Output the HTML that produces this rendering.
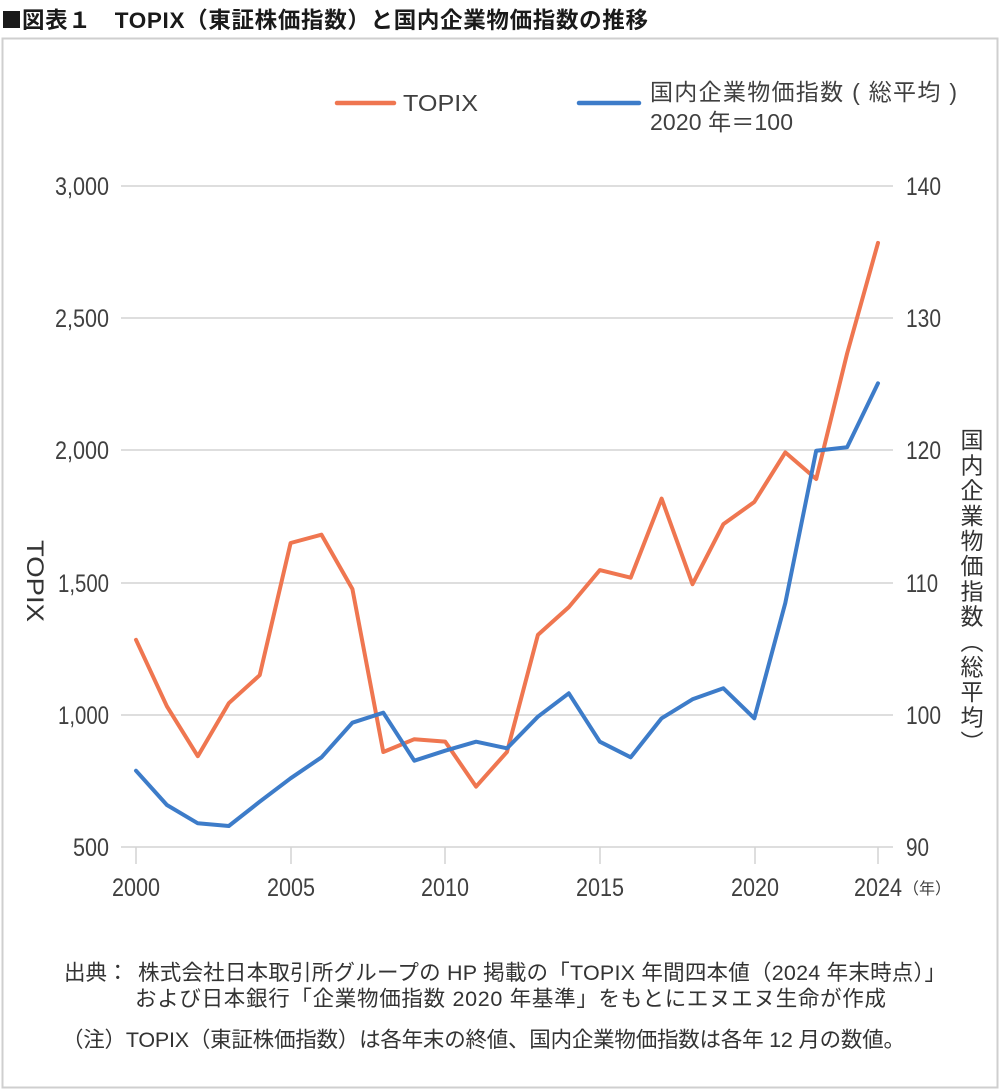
<!DOCTYPE html>
<html><head><meta charset="utf-8">
<style>
html,body{margin:0;padding:0;background:#fff;}
body{width:1000px;height:1091px;position:relative;overflow:hidden;font-family:"Liberation Sans","Noto Sans CJK JP",sans-serif;}
svg{position:absolute;left:0;top:0;}
.vt{position:absolute;left:958px;top:428px;writing-mode:vertical-rl;font-size:23px;letter-spacing:2.2px;color:#333;font-family:"Liberation Sans","Noto Sans CJK JP",sans-serif;line-height:23px;}
</style></head><body>
<svg width="1000" height="1091" viewBox="0 0 1000 1091" xmlns="http://www.w3.org/2000/svg" font-family="Liberation Sans, Noto Sans CJK JP, sans-serif">
<!-- title -->
<rect x="3" y="11" width="17" height="17" fill="#1a1a1a"/>
<text x="22" y="28" font-size="22.5" font-weight="bold" fill="#1a1a1a" textLength="626" lengthAdjust="spacing">図表１　TOPIX（東証株価指数）と国内企業物価指数の推移</text>
<!-- box -->
<rect x="2.5" y="38.5" width="995" height="1049" fill="none" stroke="#cfcfcf" stroke-width="2"/>
<!-- gridlines -->
<g stroke="#d3d3d3" stroke-width="1.5">
<line x1="121" y1="186" x2="893" y2="186"/>
<line x1="121" y1="318" x2="893" y2="318"/>
<line x1="121" y1="450" x2="893" y2="450"/>
<line x1="121" y1="583" x2="893" y2="583"/>
<line x1="121" y1="715" x2="893" y2="715"/>
<line x1="121" y1="847" x2="893" y2="847"/>
<line x1="136" y1="847" x2="136" y2="864"/>
<line x1="291" y1="847" x2="291" y2="864"/>
<line x1="445" y1="847" x2="445" y2="864"/>
<line x1="600" y1="847" x2="600" y2="864"/>
<line x1="755" y1="847" x2="755" y2="864"/>
<line x1="878" y1="847" x2="878" y2="864"/>
</g>
<!-- left labels -->
<g font-size="25" fill="#404040" text-anchor="end">
<text x="109" y="195" textLength="54" lengthAdjust="spacingAndGlyphs">3,000</text>
<text x="109" y="327" textLength="54" lengthAdjust="spacingAndGlyphs">2,500</text>
<text x="109" y="459" textLength="54" lengthAdjust="spacingAndGlyphs">2,000</text>
<text x="109" y="592" textLength="51" lengthAdjust="spacingAndGlyphs">1,500</text>
<text x="109" y="724" textLength="51" lengthAdjust="spacingAndGlyphs">1,000</text>
<text x="109" y="856" textLength="36" lengthAdjust="spacingAndGlyphs">500</text>
</g>
<!-- right labels -->
<g font-size="25" fill="#404040">
<text x="906" y="195" textLength="35" lengthAdjust="spacingAndGlyphs">140</text>
<text x="906" y="327" textLength="35" lengthAdjust="spacingAndGlyphs">130</text>
<text x="906" y="459" textLength="35" lengthAdjust="spacingAndGlyphs">120</text>
<text x="906" y="592" textLength="32" lengthAdjust="spacingAndGlyphs">110</text>
<text x="906" y="724" textLength="35" lengthAdjust="spacingAndGlyphs">100</text>
<text x="906" y="856" textLength="23" lengthAdjust="spacingAndGlyphs">90</text>
</g>
<!-- x labels -->
<g font-size="25" fill="#404040" text-anchor="middle">
<text x="136" y="896" textLength="48" lengthAdjust="spacingAndGlyphs">2000</text>
<text x="291" y="896" textLength="48" lengthAdjust="spacingAndGlyphs">2005</text>
<text x="445" y="896" textLength="48" lengthAdjust="spacingAndGlyphs">2010</text>
<text x="600" y="896" textLength="48" lengthAdjust="spacingAndGlyphs">2015</text>
<text x="755" y="896" textLength="48" lengthAdjust="spacingAndGlyphs">2020</text>
<text x="878" y="896" textLength="48" lengthAdjust="spacingAndGlyphs">2024</text>
</g>
<text x="903" y="894" font-size="16" fill="#404040">（年）</text>
<!-- left axis title -->
<text x="27" y="540" font-size="24" fill="#333" transform="rotate(90 27 540)" textLength="82" lengthAdjust="spacingAndGlyphs">TOPIX</text>
<!-- legend -->
<line x1="337" y1="103" x2="394" y2="103" stroke="#ef7650" stroke-width="4.5" stroke-linecap="round"/>
<text x="403" y="111" font-size="23" fill="#404040" textLength="75" lengthAdjust="spacingAndGlyphs">TOPIX</text>
<line x1="579" y1="103" x2="639" y2="103" stroke="#3d7cc9" stroke-width="4.5" stroke-linecap="round"/>
<text x="650" y="100" font-size="23" fill="#404040" textLength="307" lengthAdjust="spacing">国内企業物価指数 ( 総平均 )</text>
<text x="650" y="130" font-size="23" fill="#404040" textLength="143" lengthAdjust="spacing">2020 年＝100</text>
<!-- series -->
<polyline fill="none" stroke="#ef7650" stroke-width="4" stroke-linejoin="round" stroke-linecap="round" points="136,639.8 166.9,706.3 197.8,756.2 228.8,703.2 259.7,675.2 290.6,543 321.5,534.7 352.4,589 383.3,752 414.3,739.2 445.2,741.6 476.1,786.6 507,751.9 537.9,634.9 568.8,607.1 599.8,570.1 630.7,577.7 661.6,498.6 692.5,584.2 723.4,524.1 754.3,502 785.3,452.4 816.2,479 847.1,353.5 878,242.9"/>
<polyline fill="none" stroke="#3d7cc9" stroke-width="4" stroke-linejoin="round" stroke-linecap="round" points="136,770.7 166.9,805 197.8,823.3 228.8,826 259.7,801.7 290.6,778.3 321.5,757.3 352.4,722.7 383.3,712.7 414.3,760.7 445.2,750.7 476.1,741.7 507,748.3 537.9,716.7 568.8,693.3 599.8,741.7 630.7,757.3 661.6,718.3 692.5,699.3 723.4,688.3 754.3,718.3 785.3,603 816.2,450.7 847.1,447.3 878,383.3"/>
<!-- footer -->
<g font-size="21.5" fill="#333">
<text x="64" y="980">出典：</text>
<text x="138" y="980" textLength="808" lengthAdjust="spacing">株式会社日本取引所グループの HP 掲載の「TOPIX 年間四本値（2024 年末時点）」</text>
<text x="135" y="1006" textLength="751" lengthAdjust="spacing">および日本銀行「企業物価指数 2020 年基準」をもとにエヌエヌ生命が作成</text>
<text x="62" y="1047" textLength="843" lengthAdjust="spacing">（注）TOPIX（東証株価指数）は各年末の終値、国内企業物価指数は各年 12 月の数値。</text>
</g>
</svg>
<div class="vt">国内企業物価指数（総平均）</div>
</body></html>
